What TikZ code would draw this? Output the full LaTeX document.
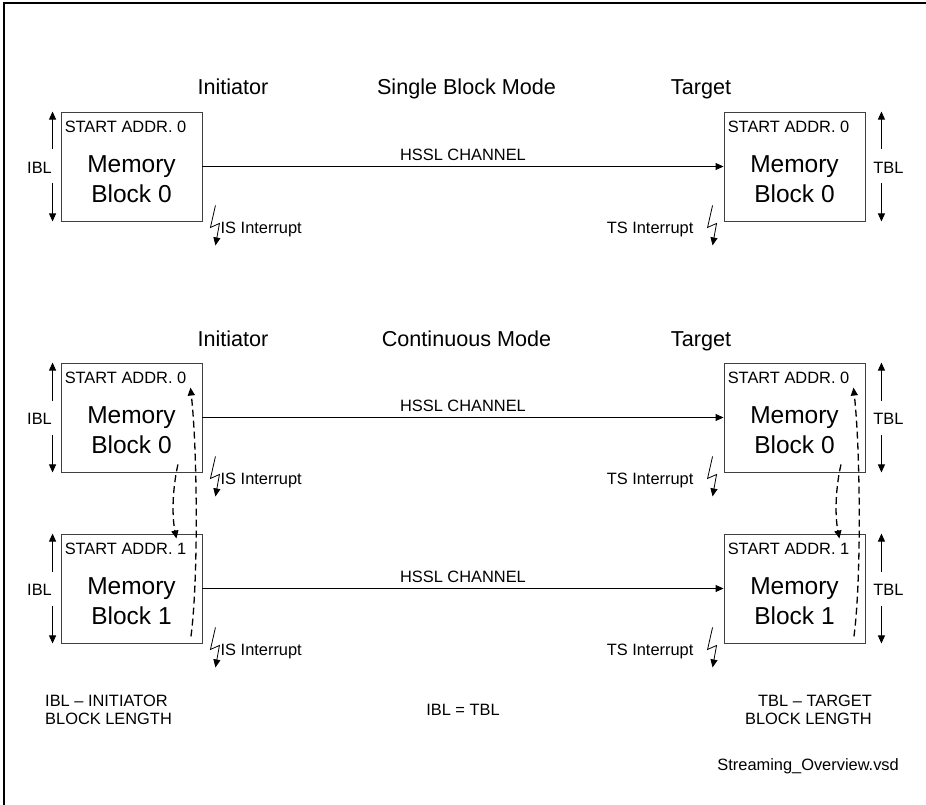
\documentclass[tikz,border=0pt]{standalone}
\usepackage{fontspec}
\setmainfont{Liberation Sans}
\usetikzlibrary{arrows.meta}

\begin{document}
\begin{tikzpicture}[x=1pt, y=-1pt, >={Triangle[length=8pt,width=7pt]}, block/.style={draw=black!75, line width=0.9pt, minimum width=141pt, minimum height=109pt, inner sep=0pt}, small/.style={font=\fontsize{16.4}{18}\selectfont, inner sep=0pt}, title/.style={font=\fontsize{21.6}{24}\selectfont, inner sep=0pt, anchor=base}, mem/.style={font=\fontsize{24.5}{30}\selectfont, align=center, inner sep=0pt}, len/.style={->, line width=0.9pt}, chan/.style={->, line width=0.9pt}, irq/.style={->, line width=0.8pt}, loopback/.style={->, dash pattern=on 7pt off 4pt, line width=1.3pt}]
\useasboundingbox (0,0) rectangle (926,805);
\draw[line width=1.2pt] (4,805) -- (4,3) -- (926,3);
% single block mode
\node[title] (ti0) at (233,95) {Initiator};
\node[title] (md0) at (466.5,95) {Single Block Mode};
\node[title] (tt0) at (701,95) {Target};
\node[block] (ib0) at (131.5,166.5) {};
\node[small, anchor=base west] (ia0) at ([xshift=4,yshift=-21]ib0.north west) {START ADDR. 0};
\node[mem] (im0) at ([yshift=-12.5]ib0.center) {Memory\\Block 0};
\draw[len] ([xshift=-8,yshift=17]ib0.west) -- ([xshift=-8]ib0.north west);
\draw[len] ([xshift=-8,yshift=-17]ib0.west) -- ([xshift=-8]ib0.south west);
\node[small] (il0) at ([xshift=-21,yshift=-1.5]ib0.west) {IBL};
\draw[irq] ([xshift=13,yshift=16]ib0.south east) -- ++(-5,22) -- ++(9,-4) -- ++(-4,22);
\node[small, anchor=base west] (ii0) at ([xshift=18,yshift=-12]ib0.south east) {IS Interrupt};
\node[block] (tb0) at (794.5,166.5) {};
\node[small, anchor=base west] (ta0) at ([xshift=4,yshift=-21]tb0.north west) {START ADDR. 0};
\node[mem] (tm0) at ([yshift=-12.5]tb0.center) {Memory\\Block 0};
\draw[len] ([xshift=16,yshift=17]tb0.east) -- ([xshift=16]tb0.north east);
\draw[len] ([xshift=16,yshift=-17]tb0.east) -- ([xshift=16]tb0.south east);
\node[small] (tl0) at ([xshift=23,yshift=-1.5]tb0.east) {TBL};
\draw[irq] ([xshift=-11,yshift=16]tb0.south west) -- ++(-5,22) -- ++(9,-4) -- ++(-4,22);
\node[small, anchor=base east] (ts0) at ([xshift=-30,yshift=-12]tb0.south west) {TS Interrupt};
\draw[chan] (ib0) -- node[small, above=5pt] (hc0) {HSSL CHANNEL} (tb0);
% continuous mode
\node[title] (ti1) at (233,346) {Initiator};
\node[title] (md1) at (466.5,346) {Continuous Mode};
\node[title] (tt1) at (701,346) {Target};
\node[block] (ib1) at (131.5,417.5) {};
\node[small, anchor=base west] (ia1) at ([xshift=4,yshift=-21]ib1.north west) {START ADDR. 0};
\node[mem] (im1) at ([yshift=-12.5]ib1.center) {Memory\\Block 0};
\draw[len] ([xshift=-8,yshift=17]ib1.west) -- ([xshift=-8]ib1.north west);
\draw[len] ([xshift=-8,yshift=-17]ib1.west) -- ([xshift=-8]ib1.south west);
\node[small] (il1) at ([xshift=-21,yshift=-1.5]ib1.west) {IBL};
\draw[irq] ([xshift=13,yshift=16]ib1.south east) -- ++(-5,22) -- ++(9,-4) -- ++(-4,22);
\node[small, anchor=base west] (ii1) at ([xshift=18,yshift=-12]ib1.south east) {IS Interrupt};
\node[block] (ib2) at (131.5,588.5) {};
\node[small, anchor=base west] (ia2) at ([xshift=4,yshift=-21]ib2.north west) {START ADDR. 1};
\node[mem] (im2) at ([yshift=-12.5]ib2.center) {Memory\\Block 1};
\draw[len] ([xshift=-8,yshift=17]ib2.west) -- ([xshift=-8]ib2.north west);
\draw[len] ([xshift=-8,yshift=-17]ib2.west) -- ([xshift=-8]ib2.south west);
\node[small] (il2) at ([xshift=-21,yshift=-1.5]ib2.west) {IBL};
\draw[irq] ([xshift=13,yshift=16]ib2.south east) -- ++(-5,22) -- ++(9,-4) -- ++(-4,22);
\node[small, anchor=base west] (ii2) at ([xshift=18,yshift=-12]ib2.south east) {IS Interrupt};
\node[block] (tb1) at (794.5,417.5) {};
\node[small, anchor=base west] (ta1) at ([xshift=4,yshift=-21]tb1.north west) {START ADDR. 0};
\node[mem] (tm1) at ([yshift=-12.5]tb1.center) {Memory\\Block 0};
\draw[len] ([xshift=16,yshift=17]tb1.east) -- ([xshift=16]tb1.north east);
\draw[len] ([xshift=16,yshift=-17]tb1.east) -- ([xshift=16]tb1.south east);
\node[small] (tl1) at ([xshift=23,yshift=-1.5]tb1.east) {TBL};
\draw[irq] ([xshift=-11,yshift=16]tb1.south west) -- ++(-5,22) -- ++(9,-4) -- ++(-4,22);
\node[small, anchor=base east] (ts1) at ([xshift=-30,yshift=-12]tb1.south west) {TS Interrupt};
\node[block] (tb2) at (794.5,588.5) {};
\node[small, anchor=base west] (ta2) at ([xshift=4,yshift=-21]tb2.north west) {START ADDR. 1};
\node[mem] (tm2) at ([yshift=-12.5]tb2.center) {Memory\\Block 1};
\draw[len] ([xshift=16,yshift=17]tb2.east) -- ([xshift=16]tb2.north east);
\draw[len] ([xshift=16,yshift=-17]tb2.east) -- ([xshift=16]tb2.south east);
\node[small] (tl2) at ([xshift=23,yshift=-1.5]tb2.east) {TBL};
\draw[irq] ([xshift=-11,yshift=16]tb2.south west) -- ++(-5,22) -- ++(9,-4) -- ++(-4,22);
\node[small, anchor=base east] (ts2) at ([xshift=-30,yshift=-12]tb2.south west) {TS Interrupt};
\draw[chan] (ib1) -- node[small, above=5pt] (hc1) {HSSL CHANNEL} (tb1);
\draw[chan] (ib2) -- node[small, above=5pt] (hc2) {HSSL CHANNEL} (tb2);
% block switching
\draw[loopback] ([xshift=-24.5,yshift=8]ib1.south east) .. controls +(-5,22) and +(-5,-25) .. ([xshift=-26,yshift=-5]ib2.north east);
\draw[loopback] ([xshift=-11.5,yshift=7]ib2.south east) .. controls +(7.5,-56) and +(7,62) .. ([xshift=-12,yshift=-25]ib1.north east);
\draw[loopback] ([xshift=-24.5,yshift=8]tb1.south east) .. controls +(-5,22) and +(-5,-25) .. ([xshift=-26,yshift=-5]tb2.north east);
\draw[loopback] ([xshift=-11.5,yshift=7]tb2.south east) .. controls +(7.5,-56) and +(7,62) .. ([xshift=-12,yshift=-25]tb1.north east);
% legend
\node[small, align=left, anchor=north west] (ibln) at (45,695) {IBL \textendash{} INITIATOR\\BLOCK LENGTH};
\node[small] (eq) at (463,710) {IBL = TBL};
\node[small, align=right, anchor=north east] (tbln) at (872,695) {TBL \textendash{} TARGET\\BLOCK LENGTH};
\node[small, anchor=base east] (file) at (899,770) {Streaming\_Overview.vsd};
\end{tikzpicture}
\end{document}
